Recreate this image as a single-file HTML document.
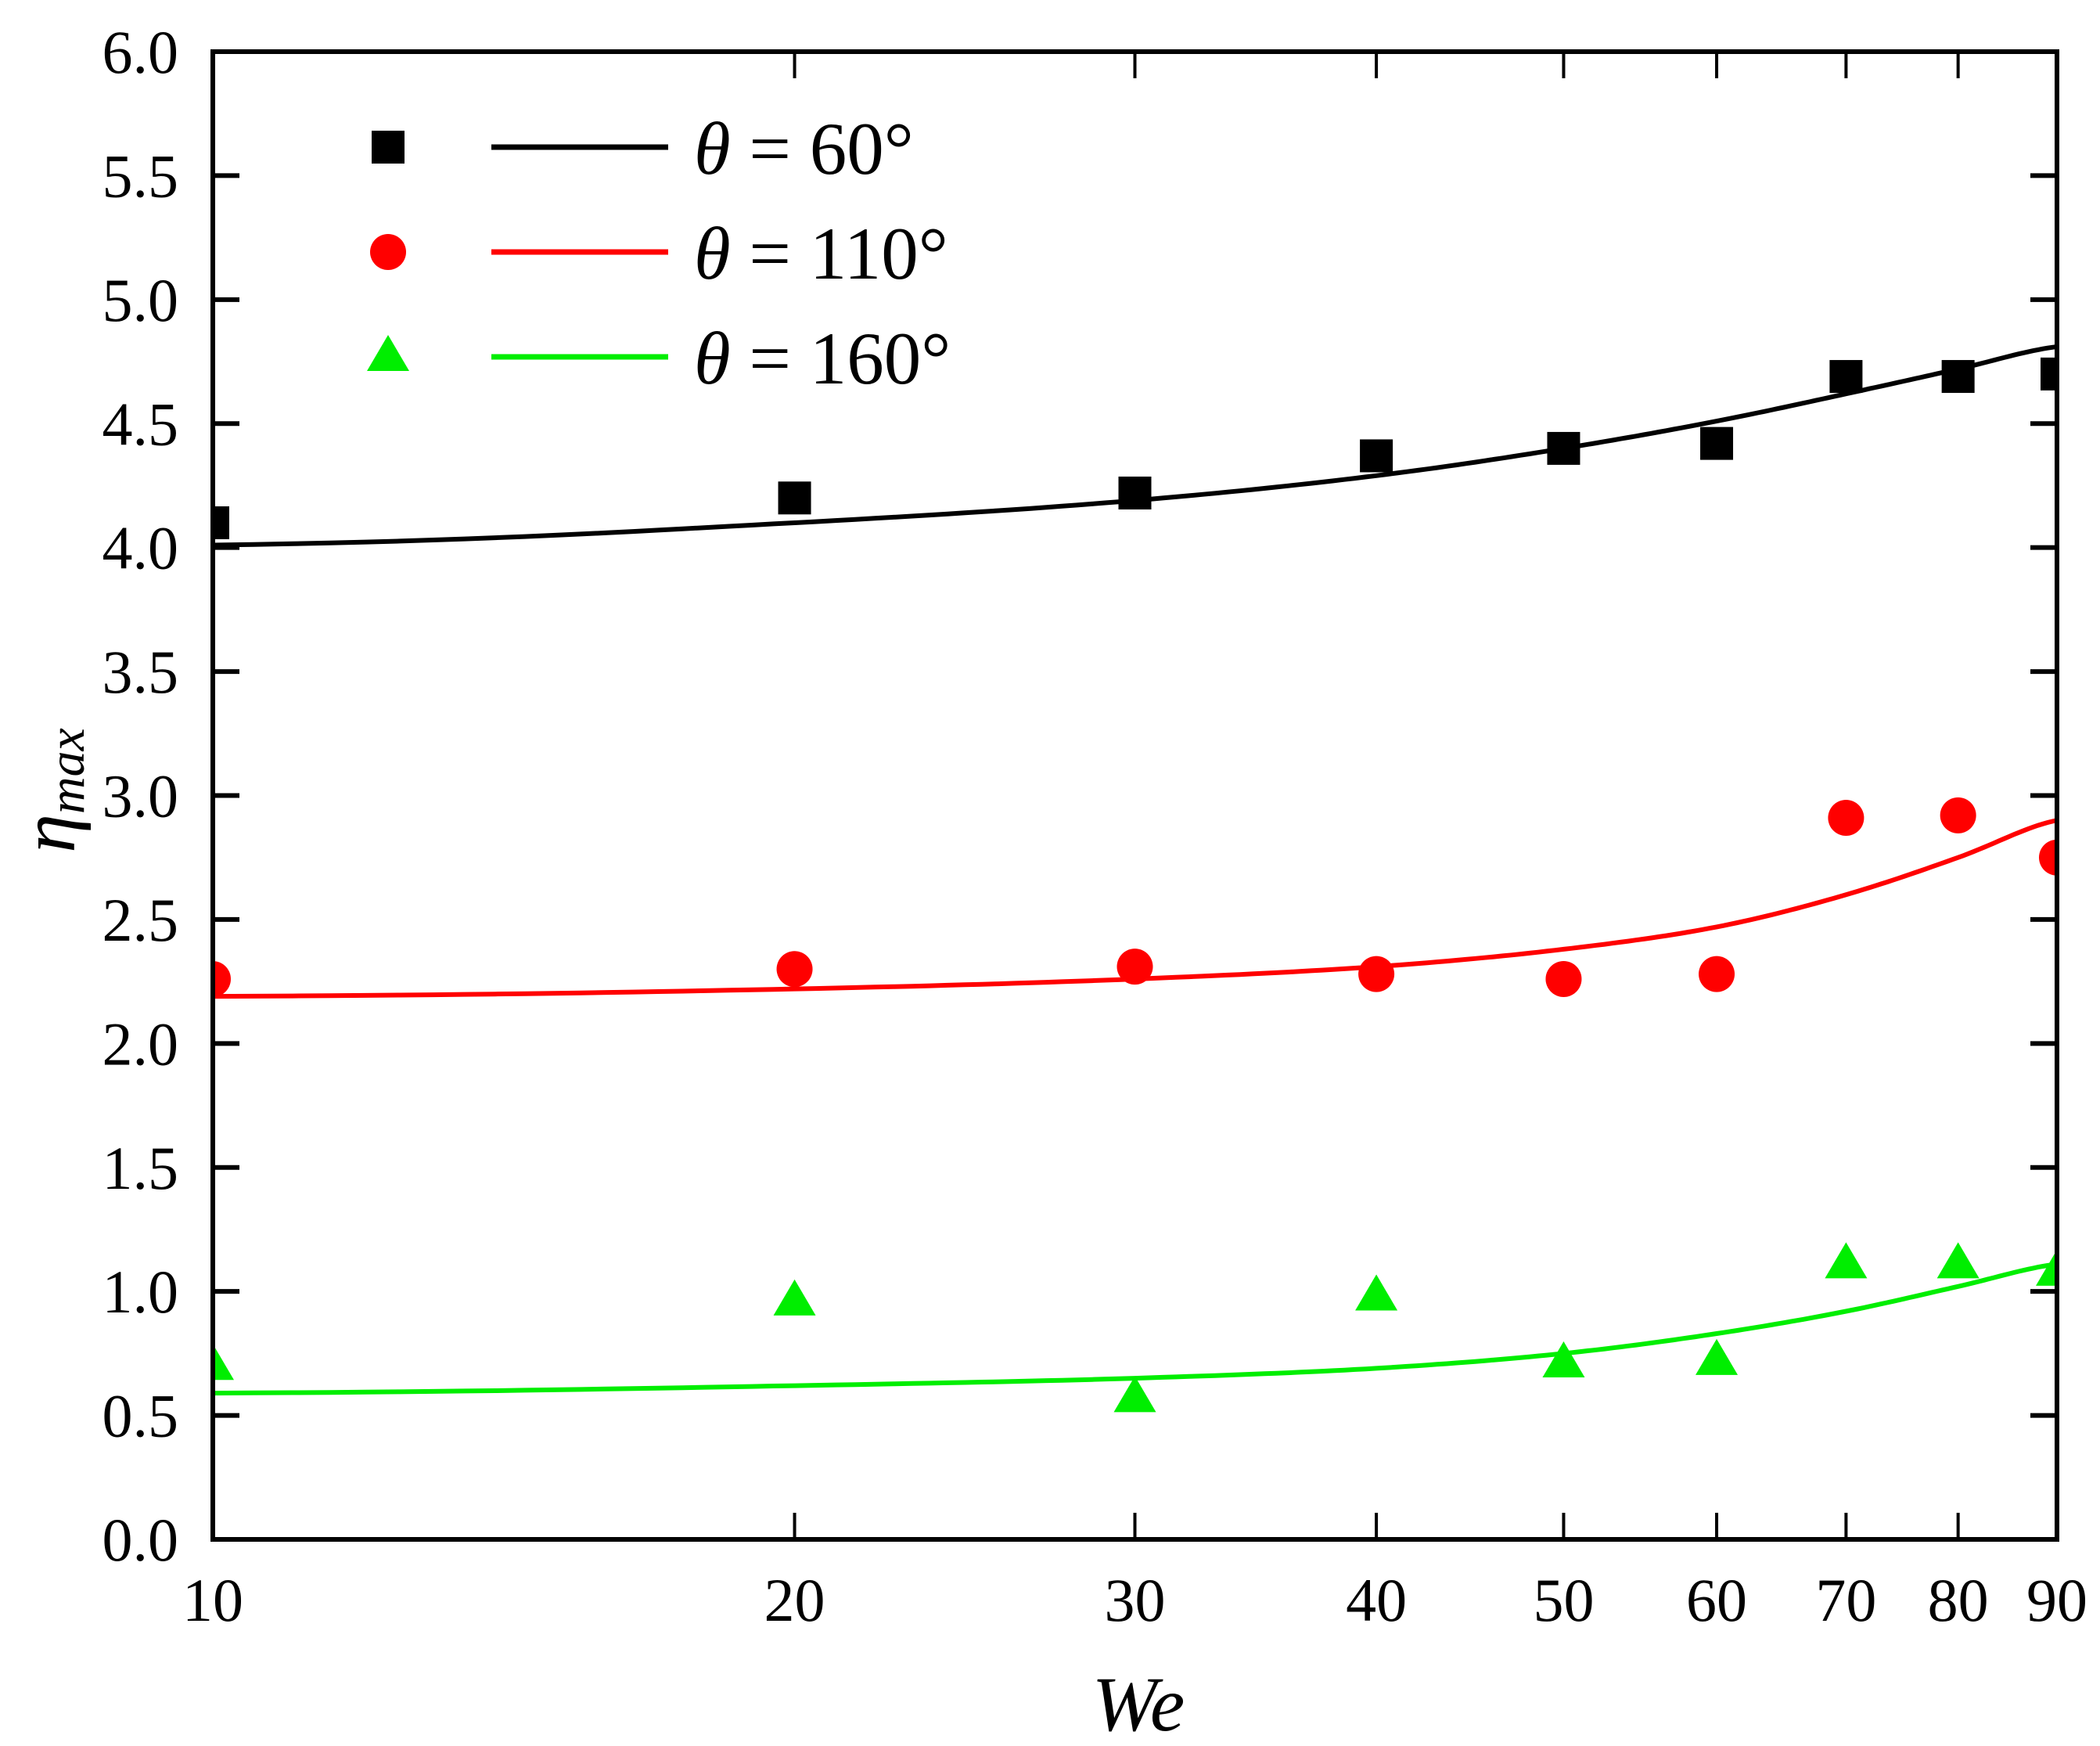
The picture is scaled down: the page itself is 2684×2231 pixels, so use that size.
<!DOCTYPE html>
<html><head><meta charset="utf-8"><style>
html,body{margin:0;padding:0;background:#fff;}
svg{display:block;}
svg text{font-family:"Liberation Serif","Times New Roman",serif;}
</style></head><body>
<svg id="chart" width="2684" height="2231" viewBox="0 0 2684 2231" xmlns="http://www.w3.org/2000/svg">
<defs><clipPath id="plotclip"><rect x="272" y="66" width="2357" height="1901"/></clipPath></defs>
<g id="grid-layer"></g>
<g id="data-layer" clip-path="url(#plotclip)"></g>
<g id="frame-layer"></g>
<g id="legend"></g>
</svg>
<script>
const xTicks = [10,20,30,40,50,60,70,80,90];
const yTicks = [0,0.5,1,1.5,2,2.5,3,3.5,4,4.5,5,5.5,6];
const weVals = [10,20,30,40,50,60,70,80,90];
const black60 = [4.10,4.20,4.22,4.37,4.40,4.42,4.69,4.69,4.70];
const red110 = [2.26,2.30,2.31,2.28,2.26,2.28,2.91,2.92,2.75];
const green160 = [0.70,0.96,0.57,0.98,0.71,0.72,1.11,1.11,1.08];
const fit60 = [4.01,4.10,4.19,4.29,4.40,4.51,4.62,4.72,4.81];
const fit110 = [2.19,2.22,2.26,2.31,2.38,2.47,2.60,2.75,2.90];
const fit160 = [0.59,0.62,0.65,0.69,0.75,0.83,0.92,1.02,1.11];

const NS='http://www.w3.org/2000/svg';
const FONT='"Liberation Serif","Times New Roman",serif';
const L=272,R=2629,T=66,B=1967;
const xs=v=>L+(Math.log10(v)-1)/Math.log10(9)*(R-L);
const ys=v=>B-v/6*(B-T);
function mk(tag,attrs,parent){const e=document.createElementNS(NS,tag);for(const k in attrs)e.setAttribute(k,attrs[k]);parent.appendChild(e);return e;}
const grid=document.getElementById('grid-layer'),data=document.getElementById('data-layer'),frame=document.getElementById('frame-layer'),leg=document.getElementById('legend');

yTicks.forEach(v=>{
  const y=ys(v);
  const t=mk('line',{x1:L,x2:L+34,y1:y,y2:y,stroke:'#000','stroke-width':6},frame);
  
  
  const t2=mk('line',{x1:R-34,x2:R,y1:y,y2:y,stroke:'#000','stroke-width':6},frame);
  
  
  const lb=mk('text',{x:228,y:y+27,'text-anchor':'end','font-size':78,'font-family':FONT},grid);
  lb.textContent=v.toFixed(1);
  
  
});
xTicks.forEach(v=>{
  const x=xs(v);
  const t=mk('line',{x1:x,x2:x,y1:B-34,y2:B,stroke:'#000','stroke-width':4},frame);
  
  
  const t2=mk('line',{x1:x,x2:x,y1:T,y2:T+34,stroke:'#000','stroke-width':4},frame);
  
  
  const lb=mk('text',{x:x,y:2071,'text-anchor':'middle','font-size':78,'font-family':FONT},grid);
  lb.textContent=String(v);
  
  
});
const fr=mk('rect',{x:L,y:T,width:R-L,height:B-T,fill:'none',stroke:'#000','stroke-width':6},frame);



const xt=mk('text',{x:1455,y:2211,'text-anchor':'middle','font-size':100,'font-style':'italic','font-family':FONT},grid);
xt.textContent='We';


const yt=mk('text',{x:0,y:0,'text-anchor':'middle','font-size':100,'font-style':'italic','font-family':FONT,transform:'translate(95,1010) rotate(-90)'},grid);
yt.innerHTML='η<tspan font-size="66" dy="12">max</tspan>';



function smoothPath(xv,yv){
  // Catmull-Rom in linear We space, sampled and mapped to log axis
  let d='';
  const n=xv.length;
  for(let i=0;i<n-1;i++){
    const i0=Math.max(i-1,0),i3=Math.min(i+2,n-1);
    const y0=yv[i0],y1=yv[i],y2=yv[i+1],y3=yv[i3];
    for(let k=0;k<=20;k++){
      if(i>0&&k===0)continue;
      const t=k/20;
      const w=xv[i]+(xv[i+1]-xv[i])*t;
      const y=0.5*((2*y1)+(-y0+y2)*t+(2*y0-5*y1+4*y2-y3)*t*t+(-y0+3*y1-3*y2+y3)*t*t*t);
      d+=(d?' L':'M')+xs(w).toFixed(1)+','+ys(y).toFixed(1);
    }
  }
  return d;
}
const series=[
  {pts:black60,fit:fit60,color:'#000',shape:'square',name:'theta-60'},
  {pts:red110,fit:fit110,color:'#ff0000',shape:'circle',name:'theta-110'},
  {pts:green160,fit:fit160,color:'#00ee00',shape:'triangle',name:'theta-160'}
];
function marker(shape,x,y,color,parent){
  let e;
  if(shape==='square') e=mk('rect',{x:x-21,y:y-21,width:42,height:42,fill:color},parent);
  else if(shape==='circle') e=mk('circle',{cx:x,cy:y,r:23,fill:color},parent);
  else e=mk('polygon',{points:`${x},${y-28} ${x+27},${y+18} ${x-27},${y+18}`,fill:color},parent);
  return e;
}
series.forEach(s=>{
  const path=mk('path',{d:smoothPath(weVals,s.fit),fill:'none',stroke:s.color,'stroke-width':6},data);
  
  
  weVals.forEach((w,i)=>{
    const m=marker(s.shape,xs(w),ys(s.pts[i]),s.color,data);
    
    
  });
});
const legRows=[{y:188,label:'60°'},{y:322,label:'110°'},{y:456,label:'160°'}];
series.forEach((s,i)=>{
  const y=legRows[i].y;
  const m=marker(s.shape,496,y,s.color,leg);
  
  
  const ln=mk('line',{x1:628,x2:854,y1:y,y2:y,stroke:s.color,'stroke-width':7},leg);
  
  
  const tx=mk('text',{x:887,y:y+34,'font-size':95,'font-family':FONT},leg);
  tx.innerHTML='<tspan font-style="italic">θ</tspan> = '+legRows[i].label;
  
  
});
</script>
</body></html>
